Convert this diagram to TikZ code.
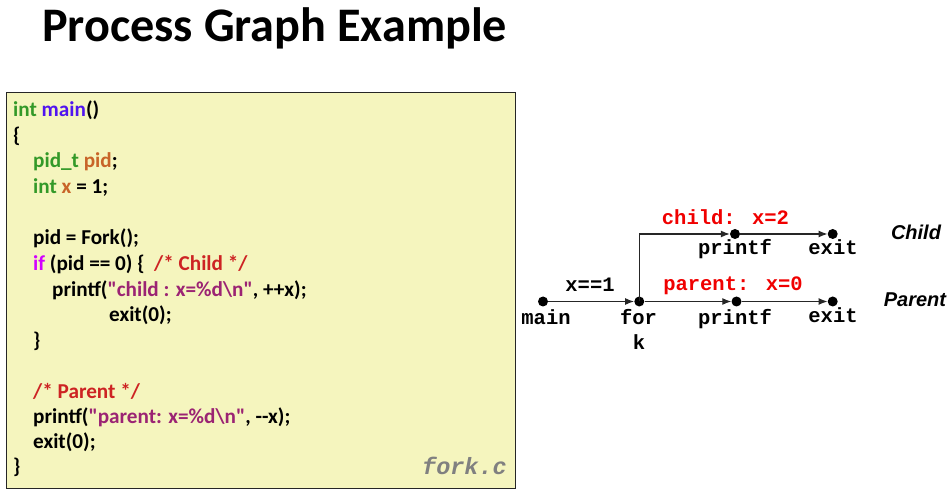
\documentclass[tikz,border=0pt]{standalone}
\usepackage{fontspec}
\setmainfont{Carlito}
\newfontfamily\codefont{Carlito}
\newfontfamily\monofont{Liberation Mono}
\newfontfamily\labfont{Liberation Sans}
\usetikzlibrary{arrows.meta}
\definecolor{kwgreen}{RGB}{51,153,40}
\definecolor{fnblue}{RGB}{80,20,240}
\definecolor{varor}{RGB}{200,100,40}
\definecolor{kwmag}{RGB}{210,0,255}
\definecolor{cmred}{RGB}{205,35,35}
\definecolor{strpur}{RGB}{155,35,115}
\definecolor{boxfill}{RGB}{245,245,190}
\definecolor{outred}{RGB}{240,0,0}
\tikzset{
  codeline/.style={anchor=base west,inner sep=0pt,font=\codefont\bfseries\fontsize{21.2}{25}\selectfont},
  dot/.style={circle,fill=black,inner sep=0pt,minimum size=10pt},
  glab/.style={anchor=base,inner sep=0pt,font=\monofont\bfseries\fontsize{20.5}{24}\selectfont},
  outlab/.style={glab,text=outred},
  proclab/.style={anchor=base,inner sep=0pt,font=\labfont\bfseries\itshape\fontsize{20}{24}\selectfont},
  edge/.style={line width=1.2pt,draw=black!85,-{Latex[length=9pt,width=7pt]}}
}
\begin{document}
\begin{tikzpicture}[x=1pt,y=-1pt]
\useasboundingbox (0,0) rectangle (951,502);
\node[anchor=base west,inner sep=0pt,font=\bfseries\fontsize{48.2}{56}\selectfont] (title) at (42,42) {Process Graph Example};
% code box
\node[draw=black!85,line width=1pt,fill=boxfill,minimum width=509pt,minimum height=396pt,inner sep=0pt,anchor=north west] (box) at (6,92) {};
\node[codeline] (l0) at (13,117) {\textcolor{kwgreen}{int} \textcolor{fnblue}{main}()};
\node[codeline] (l1) at (13,142.5) {\{};
\node[codeline] (l2) at (33,168) {\textcolor{kwgreen}{pid\_t} \textcolor{varor}{pid};};
\node[codeline] (l3) at (33,193.5) {\textcolor{kwgreen}{int} \textcolor{varor}{x} = 1;};
\node[codeline] (l5) at (33,245) {pid = Fork();};
\node[codeline] (l6) at (33,270.5) {\textcolor{kwmag}{if} (pid == 0) \{~~\textcolor{cmred}{/* Child */}};
\node[codeline] (l7) at (52,296.5) {printf(\textcolor{strpur}{"child : x=\%d\textbackslash n"}, ++x);};
\node[codeline] (l8) at (109,322) {exit(0);};
\node[codeline] (l9) at (33,347.5) {\}};
\node[codeline] (l11) at (33,398.5) {\textcolor{cmred}{/* Parent */}};
\node[codeline] (l12) at (33,424) {printf(\textcolor{strpur}{"parent: x=\%d\textbackslash n"}, --x);};
\node[codeline] (l13) at (33,449) {exit(0);};
\node[codeline] (l14) at (13,474) {\}};
\node[anchor=base east,inner sep=0pt,text=black!50,font=\monofont\bfseries\itshape\fontsize{23.5}{26}\selectfont] (fname) at (507,475) {fork.c};
% graph
\node[dot] (main) at (543,301.5) {};
\node[dot] (fork) at (639.3,301.5) {};
\node[dot] (pp) at (736.5,301.5) {};
\node[dot] (pe) at (832.7,301.5) {};
\node[dot] (cp) at (735,234) {};
\node[dot] (ce) at (832.7,234) {};
\draw[edge] (main) -- (fork);
\draw[edge] (fork) -- (pp);
\draw[edge] (pp) -- (pe);
\draw[edge] (fork.center) |- (cp);
\draw[edge] (cp) -- (ce);
\node[glab] (tmain) at (546,325) {main};
\node[glab] (tfor) at (638.5,325) {for};
\node[glab] (tk) at (639,349.5) {k};
\node[glab] (tpp) at (735,324.5) {printf};
\node[glab] (tpe) at (833,322.5) {exit};
\node[glab] (tcp) at (735,255) {printf};
\node[glab] (tce) at (833,255) {exit};
\node[glab] (tx1) at (590,291.5) {x==1};
\node[outlab] (tcout) at (725.5,225) {child: x=2};
\node[outlab] (tpout) at (733,290.5) {parent: x=0};
\node[proclab] (tchild) at (916,240) {Child};
\node[proclab] (tparent) at (915,307) {Parent};
\end{tikzpicture}
\end{document}
